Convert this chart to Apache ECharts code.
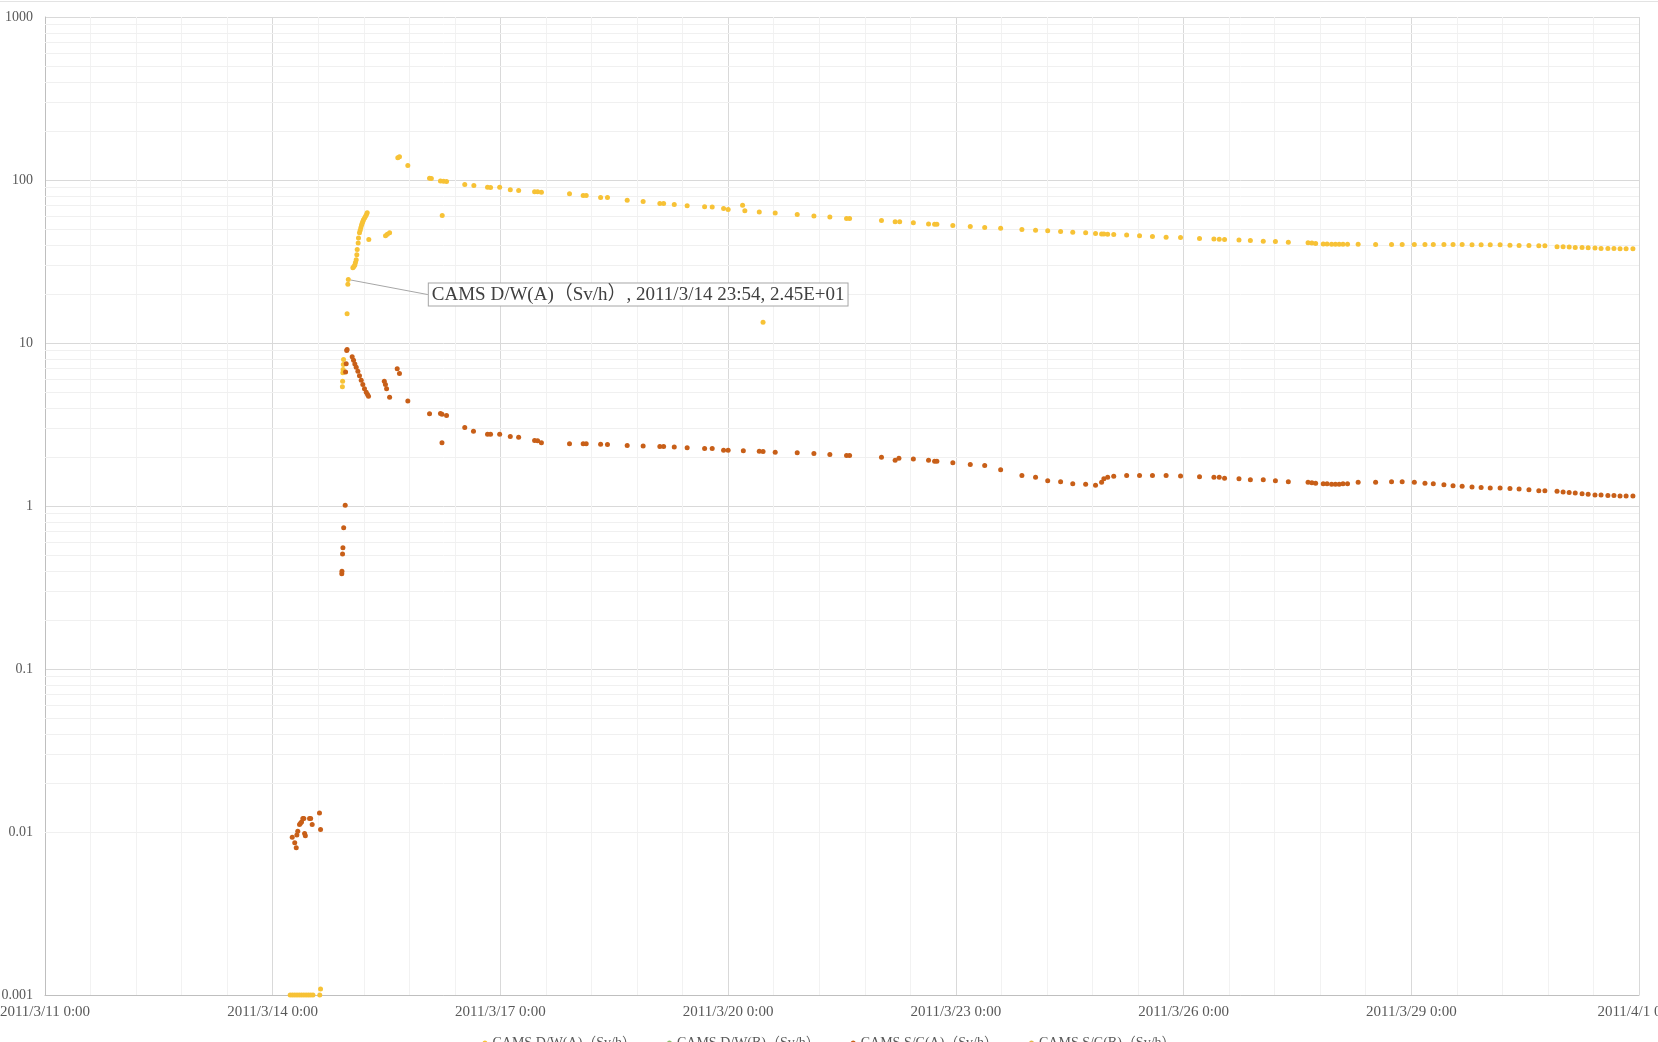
<!DOCTYPE html>
<html>
<head>
<meta charset="UTF-8">
<title>CAMS</title>
<script src="https://cdn.jsdelivr.net/npm/echarts@6/dist/echarts.min.js"></script>
<style>
	html, body { margin: 0; padding: 0; background: #fff; }
	#main { width: 1658px; height: 1042px; }
	#topline { position: absolute; left: 0; top: 1px; width: 1658px; height: 1px; background: #e3e3e3; }
</style>
</head>
<body>
<div id="main"></div>
<div id="topline"></div>
<script>
// x = days since 2011/3/11 0:00, y = Sv/h
var dwaDays = [3.23, 3.26, 3.29, 3.32, 3.35, 3.38, 3.41, 3.44, 3.47, 3.50, 3.53, 3.62, 3.63,
	3.918, 3.921, 3.924, 3.927, 3.93, 3.933, 3.98, 3.99, 3.996,
	4.056, 4.07, 4.082, 4.09, 4.1, 4.108, 4.113, 4.126, 4.13, 4.143, 4.152, 4.161, 4.17, 4.179, 4.187, 4.196, 4.21, 4.223, 4.235, 4.245,
	4.266, 4.486, 4.51, 4.54, 4.648, 4.67, 4.78, 5.066, 5.09, 5.21, 5.25, 5.29, 5.233,
	5.53, 5.65, 5.83, 5.87, 5.99, 6.13, 6.24, 6.45, 6.49, 6.54, 6.91, 7.09, 7.13, 7.32, 7.41, 7.67, 7.88,
	8.10, 8.15, 8.29, 8.46, 8.69, 8.79, 8.94, 9.0, 9.19, 9.22, 9.41, 9.46, 9.62, 9.91, 10.13, 10.34,
	10.56, 10.6, 11.02, 11.2, 11.26, 11.44, 11.64, 11.72, 11.75, 11.96, 12.19, 12.38, 12.59, 12.87,
	13.05, 13.21, 13.38, 13.54, 13.71, 13.84, 13.92, 13.95, 14.0, 14.08, 14.25, 14.42, 14.59, 14.77, 14.96,
	15.21, 15.40, 15.47, 15.54, 15.73, 15.88, 16.05, 16.21, 16.38, 16.64, 16.69, 16.74, 16.84, 16.89, 16.95,
	17.0, 17.05, 17.1, 17.16, 17.30, 17.53, 17.74, 17.88, 18.04, 18.18, 18.29, 18.43, 18.55, 18.67, 18.80,
	18.92, 19.04, 19.17, 19.30, 19.42, 19.55, 19.68, 19.76, 19.92, 20.0, 20.08, 20.16, 20.25, 20.33,
	20.42, 20.5, 20.59, 20.67, 20.75, 20.83, 20.92];
var dwaVals = [0.001, 0.001, 0.001, 0.001, 0.001, 0.001, 0.001, 0.001, 0.001, 0.001, 0.001, 0.001, 0.00109,
	5.39, 5.83, 6.58, 6.88, 7.38, 7.92, 15.1, 22.9, 24.5,
	28.9, 29.5, 30.1, 31.2, 32.4, 34.8, 37.5, 41.0, 44.1, 47.5, 49.2, 51.0, 52.7, 54.3, 55.7, 57.0, 58.5, 60.0, 61.5, 62.9,
	43.1, 45.5, 46.5, 47.5, 136.8, 138.7, 122.7, 102.6, 102.0, 98.6, 98.1, 97.8, 60.6,
	93.8, 92.6, 90.3, 90.0, 90.3, 87.1, 86.2, 84.6, 84.6, 84.2, 82.3, 80.4, 80.2, 78.2, 78.0, 75.2, 73.7,
	71.8, 71.8, 70.7, 69.4, 68.6, 68.3, 66.8, 66.0, 70.0, 64.7, 63.6, 13.4, 62.7, 61.5, 60.1, 59.2,
	58.0, 58.0, 56.4, 55.4, 55.4, 54.6, 53.7, 53.5, 53.5, 52.6, 51.9, 51.2, 50.6, 49.7,
	49.2, 48.8, 48.3, 47.8, 47.4, 46.9, 46.7, 46.6, 46.5, 46.3, 45.9, 45.5, 45.0, 44.6, 44.4,
	43.8, 43.4, 43.3, 43.2, 42.8, 42.6, 42.1, 41.9, 41.5, 41.2, 41.0, 40.8, 40.5, 40.5, 40.4,
	40.4, 40.4, 40.4, 40.4, 40.4, 40.2, 40.2, 40.2, 40.2, 40.2, 40.2, 40.2, 40.2, 40.2, 40.0,
	40.0, 40.0, 40.0, 39.8, 39.6, 39.6, 39.5, 39.5, 39.0, 39.0, 38.8, 38.6, 38.6, 38.4,
	38.2, 38.0, 38.0, 38.0, 37.9, 37.9, 37.8];

var scaDays = [3.257, 3.29, 3.31, 3.318, 3.33, 3.353, 3.366, 3.38, 3.397, 3.41, 3.42, 3.43, 3.485, 3.5, 3.52, 3.616, 3.63,
	3.91, 3.912, 3.92, 3.925, 3.935, 3.955, 3.96, 3.968, 3.975, 3.98,
	4.047, 4.065, 4.082, 4.1, 4.122, 4.143, 4.166, 4.187, 4.209, 4.232, 4.249, 4.262,
	4.47, 4.485, 4.5, 4.54, 4.64, 4.67, 4.78, 5.066, 5.21, 5.23, 5.29, 5.23, 5.53, 5.645, 5.83, 5.87, 5.99,
	6.13, 6.24, 6.45, 6.49, 6.54, 6.91, 7.09, 7.13, 7.32, 7.41, 7.67, 7.88, 8.10, 8.15, 8.29, 8.46,
	8.69, 8.79, 8.94, 9.0, 9.20, 9.41, 9.46, 9.62, 9.91, 10.13, 10.34,
	10.56, 10.6, 11.02, 11.2, 11.25, 11.44, 11.64, 11.72, 11.75, 11.96, 12.19, 12.38, 12.59, 12.87,
	13.05, 13.21, 13.38, 13.54, 13.71, 13.84, 13.92, 13.95, 14.0, 14.08, 14.25, 14.42, 14.59, 14.77, 14.96,
	15.21, 15.40, 15.47, 15.54, 15.73, 15.88, 16.05, 16.21, 16.38, 16.64, 16.69, 16.74, 16.84, 16.89, 16.95,
	17.0, 17.05, 17.1, 17.16, 17.30, 17.53, 17.74, 17.88, 18.04, 18.18, 18.29, 18.43, 18.55, 18.67, 18.80,
	18.92, 19.04, 19.17, 19.30, 19.42, 19.55, 19.68, 19.76, 19.92, 20.0, 20.08, 20.16, 20.25, 20.33,
	20.42, 20.5, 20.59, 20.67, 20.75, 20.83, 20.92];
var scaVals = [0.0093, 0.0086, 0.0080, 0.0096, 0.0101, 0.0111, 0.0113, 0.0115, 0.0121, 0.0121, 0.0098, 0.0095, 0.0121, 0.0121, 0.0111, 0.0131, 0.01035,
	0.384, 0.398, 0.508, 0.554, 0.735, 1.01, 6.63, 7.45, 9.0, 9.12,
	8.23, 7.85, 7.44, 7.1, 6.7, 6.3, 5.9, 5.56, 5.24, 4.99, 4.83, 4.72,
	5.83, 5.56, 5.24, 4.65, 6.95, 6.5, 4.4, 3.68, 3.69, 3.66, 3.59, 2.44, 3.03, 2.87, 2.76, 2.76, 2.76,
	2.67, 2.64, 2.52, 2.51, 2.44, 2.41, 2.41, 2.41, 2.39, 2.38, 2.35, 2.33, 2.32, 2.32, 2.30, 2.28,
	2.25, 2.25, 2.20, 2.20, 2.18, 2.17, 2.16, 2.14, 2.12, 2.10, 2.07,
	2.04, 2.04, 1.99, 1.91, 1.96, 1.94, 1.91, 1.88, 1.88, 1.84, 1.80, 1.77, 1.67, 1.54,
	1.50, 1.43, 1.41, 1.37, 1.36, 1.34, 1.40, 1.47, 1.50, 1.52, 1.54, 1.54, 1.54, 1.54, 1.53,
	1.51, 1.50, 1.50, 1.48, 1.47, 1.45, 1.45, 1.43, 1.41, 1.40, 1.39, 1.38, 1.37, 1.37, 1.36,
	1.36, 1.36, 1.37, 1.37, 1.40, 1.40, 1.41, 1.41, 1.40, 1.38, 1.37, 1.35, 1.33, 1.32, 1.31,
	1.30, 1.29, 1.29, 1.28, 1.27, 1.26, 1.24, 1.24, 1.23, 1.22, 1.21, 1.20, 1.19, 1.18,
	1.17, 1.17, 1.16, 1.16, 1.15, 1.15, 1.15];

var seriesNames = ['CAMS D/W(A)（Sv/h）', 'CAMS D/W(B)（Sv/h）', 'CAMS S/C(A)（Sv/h）', 'CAMS S/C(B)（Sv/h）'];
var seriesColors = ['#F7C236', '#70AD47', '#C85F18', '#D9A21B'];

// annotated point
var annoDay = 3.996;
var annoText = 'CAMS D/W(A)（Sv/h）, 2011/3/14 23:54, 2.45E+01';

var xMin = 0, xMax = 21, xStep = 3;
var yMin = 0.001, yMax = 1000;

var font = '"Liberation Serif", "Noto Sans CJK JP", serif';

function pairs(days, vals) {
	var out = [];
	for (var i = 0; i < days.length; i++) out.push([days[i], vals[i]]);
	return out;
}

var dwaData = pairs(dwaDays, dwaVals);
var annoIndex = dwaDays.indexOf(annoDay);
dwaData[annoIndex] = {
	value: dwaData[annoIndex],
	label: {
		show: true,
		position: 'right',
		formatter: annoText,
		fontFamily: font,
		fontSize: 19,
		color: '#404040',
		backgroundColor: '#fff',
		borderColor: '#a6a6a6',
		borderWidth: 1,
		padding: [2, 3, 1, 3]
	},
	labelLine: { show: true, lineStyle: { color: '#a6a6a6', width: 1 } }
};

// minor log grid values 2..9 per decade
var minorY = [];
for (var d = -3; d < 3; d++) {
	for (var k = 2; k <= 9; k++) minorY.push({ yAxis: k * Math.pow(10, d) });
}

var chart = echarts.init(document.getElementById('main'));
chart.setOption({
	animation: false,
	grid: { left: 45, right: 19, top: 17, bottom: 47, outerBoundsMode: 'none' },
	legend: {
		data: seriesNames,
		top: 1031,
		left: 'center',
		icon: 'circle',
		itemWidth: 5,
		itemHeight: 5,
		itemGap: 31,
		textStyle: { fontFamily: font, fontSize: 14, color: '#595959' }
	},
	xAxis: {
		type: 'value',
		min: xMin,
		max: xMax,
		interval: xStep,
		axisLine: { onZero: false, lineStyle: { color: '#bfbfbf' } },
		axisTick: { show: false },
		splitLine: { show: true, lineStyle: { color: '#d9d9d9' } },
		minorTick: { show: false, splitNumber: 5 },
		minorSplitLine: { show: true, lineStyle: { color: '#f2f2f2' } },
		axisLabel: {
			margin: 10,
			fontFamily: font,
			fontSize: 15,
			color: '#595959',
			showMinLabel: true,
			showMaxLabel: true,
			formatter: function(v) {
				var dt = new Date(2011, 2, 11 + Math.round(v));
				return dt.getFullYear() + '/' + (dt.getMonth() + 1) + '/' + dt.getDate() + ' 0:00';
			}
		}
	},
	yAxis: {
		type: 'log',
		logBase: 10,
		min: yMin,
		max: yMax,
		axisLine: { show: true, lineStyle: { color: '#bfbfbf' } },
		axisTick: { show: false },
		splitLine: { show: true, lineStyle: { color: '#d9d9d9' } },
		axisLabel: {
			margin: 12,
			fontFamily: font,
			fontSize: 14,
			color: '#595959',
			formatter: function(v) { return String(Number(v.toPrecision(6))); }
		}
	},
	series: [
		{
			name: 'grid-minor',
			type: 'scatter',
			data: [],
			silent: true,
			z: 0,
			markLine: {
				silent: true,
				z: 1,
				symbol: 'none',
				label: { show: false },
				emphasis: { disabled: true },
				lineStyle: { color: '#f0f0f0', type: 'solid', width: 1 },
				data: minorY
			}
		},
		{
			name: seriesNames[0],
			type: 'scatter',
			z: 3,
			symbolSize: 5,
			itemStyle: { color: seriesColors[0], opacity: 1 },
			data: dwaData,
			labelLayout: function(p) {
				if (p.dataIndex === annoIndex) return { dx: 73, dy: 15 };
			}
		},
		{
			name: seriesNames[1],
			type: 'scatter',
			symbolSize: 4,
			itemStyle: { color: seriesColors[1] },
			data: []
		},
		{
			name: seriesNames[2],
			type: 'scatter',
			z: 4,
			symbolSize: 5,
			itemStyle: { color: seriesColors[2], opacity: 1 },
			data: pairs(scaDays, scaVals)
		},
		{
			name: seriesNames[3],
			type: 'scatter',
			symbolSize: 4,
			itemStyle: { color: seriesColors[3] },
			data: []
		}
	]
});
</script>
</body>
</html>
